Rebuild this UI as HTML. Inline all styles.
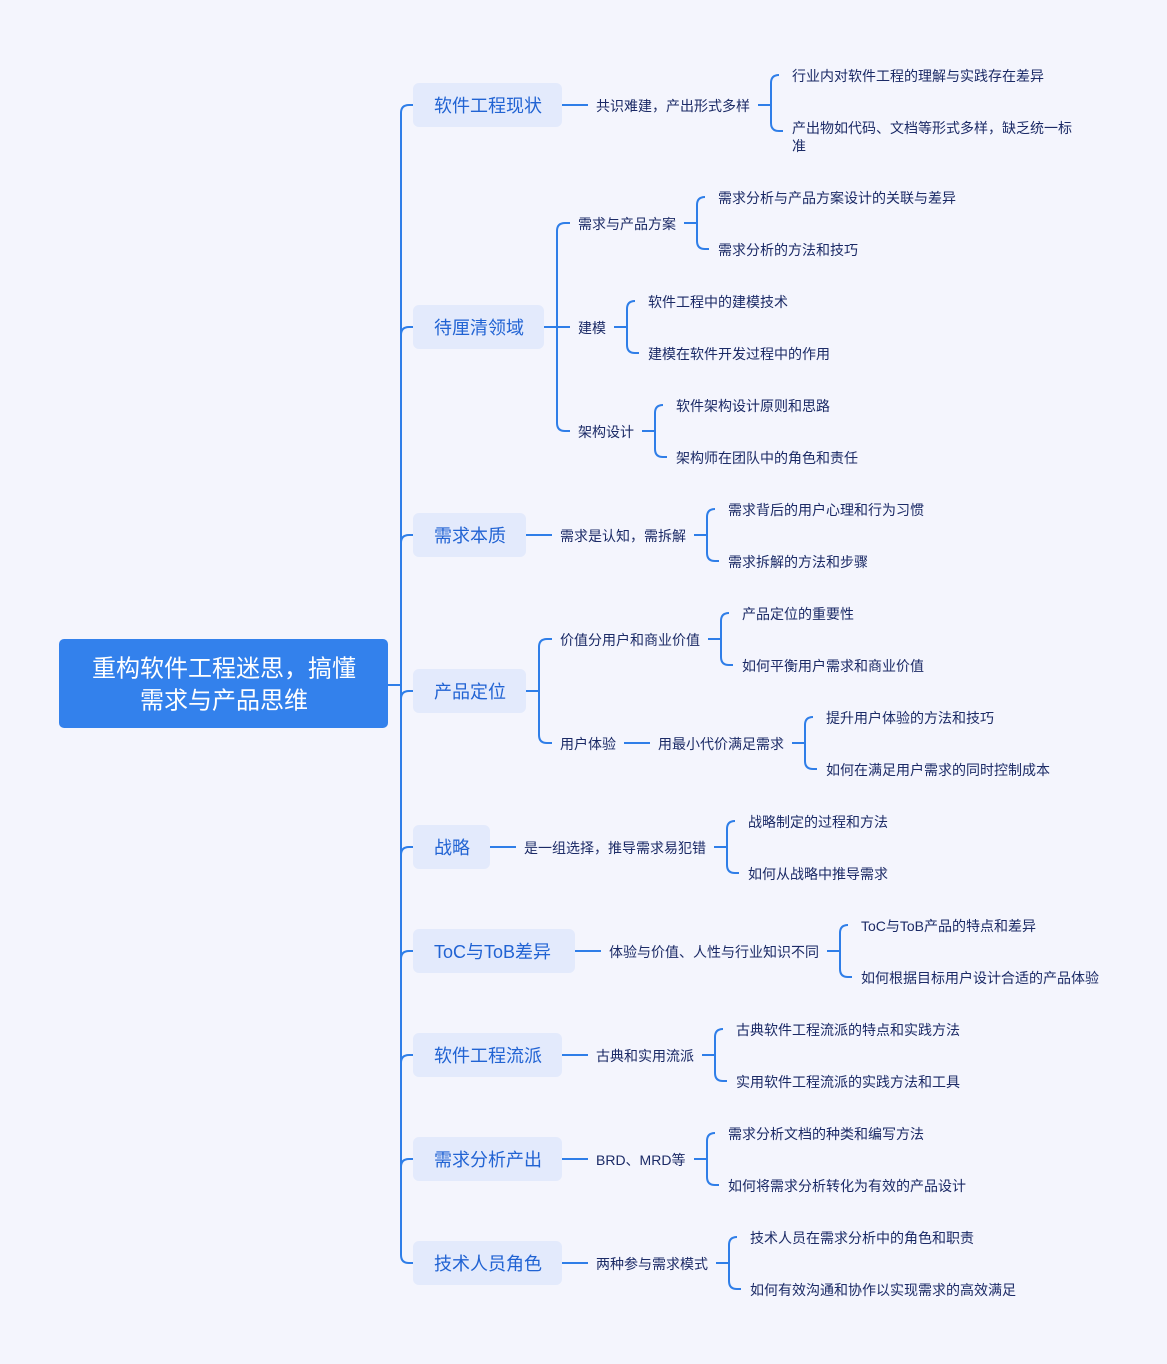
<!DOCTYPE html>
<html><head><meta charset="utf-8"><style>
html,body{margin:0;padding:0;background:#f4f5fd;}
svg{display:block;}
text{font-family:"Liberation Sans","Noto Sans CJK SC",sans-serif;dominant-baseline:central;}
.l{font-size:14px;fill:#1b2a66;}
.n{font-size:18px;fill:#2163d3;}
.ln{stroke:#2f7ee8;stroke-width:2;fill:none;}
</style></head><body>
<svg width="1167" height="1364" xmlns="http://www.w3.org/2000/svg">
<rect x="0" y="0" width="1167" height="1364" fill="#f4f5fd"/>
<path class="ln" d="M413,105 H409 Q401,105 401,113 V1255 Q401,1263 409,1263 H413"/>
<path class="ln" d="M388,685 H401"/>
<g class="ln">
<path d="M401,335 Q401,327 409,327 H413"/>
<path d="M401,543 Q401,535 409,535 H413"/>
<path d="M401,699 Q401,691 409,691 H413"/>
<path d="M401,855 Q401,847 409,847 H413"/>
<path d="M401,959 Q401,951 409,951 H413"/>
<path d="M401,1063 Q401,1055 409,1055 H413"/>
<path d="M401,1167 Q401,1159 409,1159 H413"/>
</g>
<rect x="59" y="639" width="329" height="89" rx="5" fill="#3381ec"/>
<g transform="translate(0,1)">
<text x="224" y="668" text-anchor="middle" font-size="24" fill="#fff">重构软件工程迷思，搞懂</text>
<text x="224" y="700" text-anchor="middle" font-size="24" fill="#fff">需求与产品思维</text>
</g>
<g fill="#e3eafc">
<rect x="413" y="83" width="149" height="44" rx="6"/>
<rect x="413" y="305" width="131" height="44" rx="6"/>
<rect x="413" y="513" width="113" height="44" rx="6"/>
<rect x="413" y="669" width="113" height="44" rx="6"/>
<rect x="413" y="825" width="77" height="44" rx="6"/>
<rect x="413" y="929" width="162" height="44" rx="6"/>
<rect x="413" y="1033" width="149" height="44" rx="6"/>
<rect x="413" y="1137" width="149" height="44" rx="6"/>
<rect x="413" y="1241" width="149" height="44" rx="6"/>
</g>
<g class="n" transform="translate(0,1)">
<text x="434" y="105">软件工程现状</text>
<text x="434" y="327">待厘清领域</text>
<text x="434" y="535">需求本质</text>
<text x="434" y="691">产品定位</text>
<text x="434" y="847">战略</text>
<text x="434" y="951">ToC与ToB差异</text>
<text x="434" y="1055">软件工程流派</text>
<text x="434" y="1159">需求分析产出</text>
<text x="434" y="1263">技术人员角色</text>
</g>
<g class="ln">
<path d="M562,105 H588"/>
<path d="M758,105 H771 M779,75 Q771,75 771,83 V123 Q771,131 779,131 H783"/>
<path d="M544,327 H557 M570,223 H565 Q557,223 557,231 V423 Q557,431 565,431 H570 M557,327 H570"/>
<path d="M684,223 H697 M705,197 Q697,197 697,205 V241 Q697,249 705,249 H709"/>
<path d="M614,327 H627 M635,301 Q627,301 627,309 V345 Q627,353 635,353 H639"/>
<path d="M642,431 H655 M663,405 Q655,405 655,413 V449 Q655,457 663,457 H667"/>
<path d="M526,535 H552"/>
<path d="M694,535 H707 M715,509 Q707,509 707,517 V553 Q707,561 715,561 H719"/>
<path d="M526,691 H539 M552,639 H547 Q539,639 539,647 V735 Q539,743 547,743 H552"/>
<path d="M708,639 H721 M729,613 Q721,613 721,621 V657 Q721,665 729,665 H733"/>
<path d="M624,743 H650"/>
<path d="M792,743 H805 M813,717 Q805,717 805,725 V761 Q805,769 813,769 H817"/>
<path d="M490,847 H516"/>
<path d="M714,847 H727 M735,821 Q727,821 727,829 V865 Q727,873 735,873 H739"/>
<path d="M575,951 H601"/>
<path d="M827,951 H840 M848,925 Q840,925 840,933 V969 Q840,977 848,977 H852"/>
<path d="M562,1055 H588"/>
<path d="M702,1055 H715 M723,1029 Q715,1029 715,1037 V1073 Q715,1081 723,1081 H727"/>
<path d="M562,1159 H588"/>
<path d="M694,1159 H707 M715,1133 Q707,1133 707,1141 V1177 Q707,1185 715,1185 H719"/>
<path d="M562,1263 H588"/>
<path d="M716,1263 H729 M737,1237 Q729,1237 729,1245 V1281 Q729,1289 737,1289 H741"/>
</g>
<g class="l" transform="translate(0,1)">
<text x="596" y="105">共识难建，产出形式多样</text>
<text x="792" y="75">行业内对软件工程的理解与实践存在差异</text>
<text x="792" y="127">产出物如代码、文档等形式多样，缺乏统一标</text>
<text x="792" y="145">准</text>
<text x="578" y="223">需求与产品方案</text>
<text x="578" y="327">建模</text>
<text x="578" y="431">架构设计</text>
<text x="718" y="197">需求分析与产品方案设计的关联与差异</text>
<text x="718" y="249">需求分析的方法和技巧</text>
<text x="648" y="301">软件工程中的建模技术</text>
<text x="648" y="353">建模在软件开发过程中的作用</text>
<text x="676" y="405">软件架构设计原则和思路</text>
<text x="676" y="457">架构师在团队中的角色和责任</text>
<text x="560" y="535">需求是认知，需拆解</text>
<text x="728" y="509">需求背后的用户心理和行为习惯</text>
<text x="728" y="561">需求拆解的方法和步骤</text>
<text x="560" y="639">价值分用户和商业价值</text>
<text x="742" y="613">产品定位的重要性</text>
<text x="742" y="665">如何平衡用户需求和商业价值</text>
<text x="560" y="743">用户体验</text>
<text x="658" y="743">用最小代价满足需求</text>
<text x="826" y="717">提升用户体验的方法和技巧</text>
<text x="826" y="769">如何在满足用户需求的同时控制成本</text>
<text x="524" y="847">是一组选择，推导需求易犯错</text>
<text x="748" y="821">战略制定的过程和方法</text>
<text x="748" y="873">如何从战略中推导需求</text>
<text x="609" y="951">体验与价值、人性与行业知识不同</text>
<text x="861" y="925">ToC与ToB产品的特点和差异</text>
<text x="861" y="977">如何根据目标用户设计合适的产品体验</text>
<text x="596" y="1055">古典和实用流派</text>
<text x="736" y="1029">古典软件工程流派的特点和实践方法</text>
<text x="736" y="1081">实用软件工程流派的实践方法和工具</text>
<text x="596" y="1159">BRD、MRD等</text>
<text x="728" y="1133">需求分析文档的种类和编写方法</text>
<text x="728" y="1185">如何将需求分析转化为有效的产品设计</text>
<text x="596" y="1263">两种参与需求模式</text>
<text x="750" y="1237">技术人员在需求分析中的角色和职责</text>
<text x="750" y="1289">如何有效沟通和协作以实现需求的高效满足</text>
</g>
</svg>
</body></html>
